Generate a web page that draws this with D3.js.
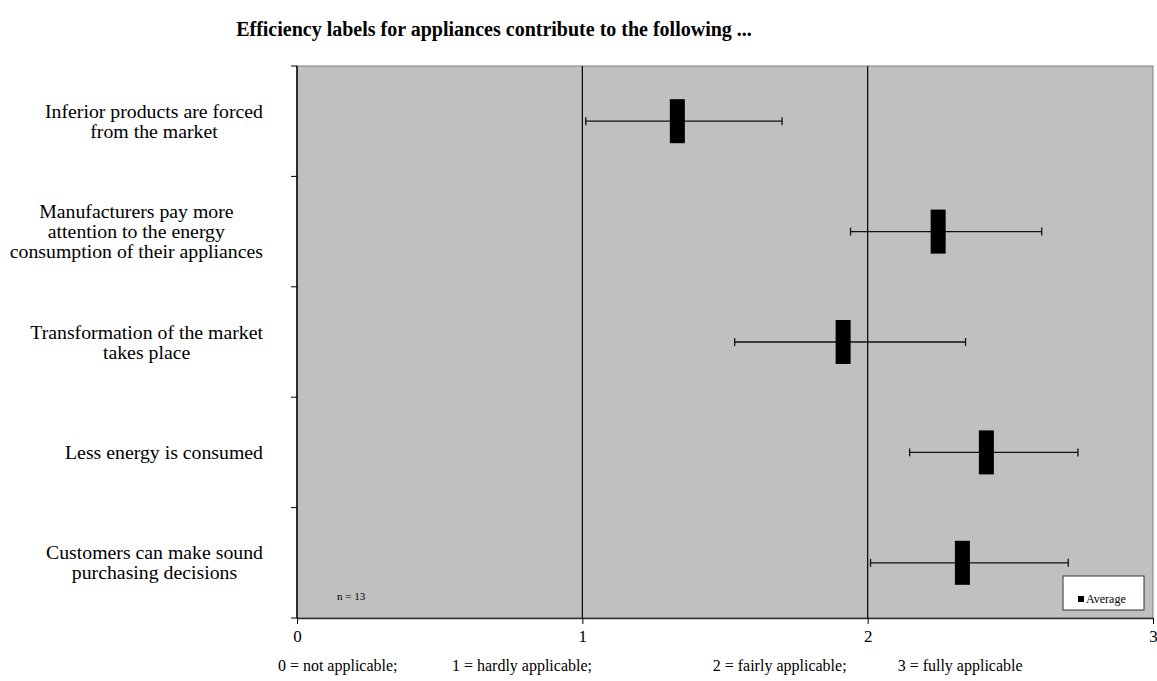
<!DOCTYPE html>
<html>
<head>
<meta charset="utf-8">
<title>Efficiency labels</title>
<script src="https://cdn.jsdelivr.net/npm/d3@7"></script>
<style>
  body { margin: 0; background: #fff; }
  svg text { font-family: "Liberation Serif", "Times New Roman", serif; fill: #000; }
</style>
</head>
<body>
<svg id="chart" width="1157" height="681"></svg>
<script>
var categories = [
  ["Inferior products are forced", "from the market"],
  ["Manufacturers pay more", "attention to the energy", "consumption of their appliances"],
  ["Transformation of the market", "takes place"],
  ["Less energy is consumed"],
  ["Customers can make sound", "purchasing decisions"]
];
var averages = [1.333, 2.247, 1.914, 2.416, 2.332];
var lowValues = [1.012, 1.94, 1.534, 2.147, 2.01];
var highValues = [1.70, 2.61, 2.343, 2.737, 2.703];
var xTicks = [0, 1, 2, 3];
var scaleNotes = ["0 = not applicable;", "1 = hardly applicable;", "2 = fairly applicable;", "3 = fully applicable"];
var noteStarts = [-0.067, 0.543, 1.457, 2.105];

var plotLeft = 297, plotRight = 1153, plotTop = 66, plotBottom = 618;
var svg = d3.select("#chart");

var x = d3.scaleLinear().domain([0, 3]).range([plotLeft, plotRight]);
var y = d3.scaleBand().domain(d3.range(categories.length)).range([plotTop, plotBottom]).padding(0);

// plot background
svg.append("rect")
  .attr("x", plotLeft).attr("y", plotTop)
  .attr("width", plotRight - plotLeft).attr("height", plotBottom - plotTop)
  .attr("fill", "#c0c0c0")
  .attr("stroke", "#808080").attr("stroke-width", 1);

// vertical grid lines at 1 and 2
svg.selectAll(".grid")
  .data([1, 2])
  .enter().append("line")
  .attr("x1", function(d) { return x(d); })
  .attr("x2", function(d) { return x(d); })
  .attr("y1", plotTop).attr("y2", plotBottom)
  .attr("stroke", "#000").attr("stroke-width", 1.2);

// x axis
var xAxis = d3.axisBottom(x).tickValues(xTicks).tickSize(6).tickSizeOuter(0).tickFormat(d3.format("d"));
var gx = svg.append("g")
  .attr("transform", "translate(0," + plotBottom + ")")
  .call(xAxis);
gx.select(".domain").attr("stroke", "#333").attr("stroke-width", 1.5);
gx.selectAll(".tick line").attr("stroke", "#000");
gx.selectAll(".tick text")
  .attr("y", 12)
  .style("font-size", "17px")
  .style("font-family", "'Liberation Serif', serif");

// y axis: ticks at band edges
var yEdges = d3.range(categories.length + 1).map(function(i) { return plotTop + i * y.bandwidth(); });
svg.append("line")
  .attr("x1", plotLeft).attr("x2", plotLeft)
  .attr("y1", plotTop).attr("y2", plotBottom)
  .attr("stroke", "#000").attr("stroke-width", 1.5);
svg.selectAll(".ytick")
  .data(yEdges)
  .enter().append("line")
  .attr("x1", plotLeft - 6).attr("x2", plotLeft)
  .attr("y1", function(d) { return d; })
  .attr("y2", function(d) { return d; })
  .attr("stroke", "#000");

// category labels: block right aligned, lines centered
var labelRight = 263, lineH = 20;
categories.forEach(function(lines, i) {
  var g = svg.append("g");
  var cy = y(i) + y.bandwidth() / 2;
  var texts = g.selectAll("text")
    .data(lines)
    .enter().append("text")
    .attr("text-anchor", "middle")
    .style("font-size", "19.8px")
    .attr("y", function(d, j) { return cy + (j - (lines.length - 1) / 2) * lineH + 6.5; })
    .text(function(d) { return d; });
  var maxW = 0;
  texts.each(function() { maxW = Math.max(maxW, this.getComputedTextLength()); });
  texts.attr("x", labelRight - maxW / 2);
});

// error bars
var capH = 4;
var bars = svg.selectAll(".err")
  .data(averages)
  .enter().append("g");
bars.append("line")
  .attr("x1", function(d, i) { return x(lowValues[i]); })
  .attr("x2", function(d, i) { return x(highValues[i]); })
  .attr("y1", function(d, i) { return y(i) + y.bandwidth() / 2; })
  .attr("y2", function(d, i) { return y(i) + y.bandwidth() / 2; })
  .attr("stroke", "#111").attr("stroke-width", 1.3);
bars.append("line")
  .attr("x1", function(d, i) { return x(lowValues[i]); })
  .attr("x2", function(d, i) { return x(lowValues[i]); })
  .attr("y1", function(d, i) { return y(i) + y.bandwidth() / 2 - capH; })
  .attr("y2", function(d, i) { return y(i) + y.bandwidth() / 2 + capH; })
  .attr("stroke", "#111").attr("stroke-width", 1.3);
bars.append("line")
  .attr("x1", function(d, i) { return x(highValues[i]); })
  .attr("x2", function(d, i) { return x(highValues[i]); })
  .attr("y1", function(d, i) { return y(i) + y.bandwidth() / 2 - capH; })
  .attr("y2", function(d, i) { return y(i) + y.bandwidth() / 2 + capH; })
  .attr("stroke", "#111").attr("stroke-width", 1.3);

// average markers
var boxW = 15, boxH = 44;
bars.append("rect")
  .attr("x", function(d) { return x(d) - boxW / 2; })
  .attr("y", function(d, i) { return y(i) + y.bandwidth() / 2 - boxH / 2; })
  .attr("width", boxW).attr("height", boxH)
  .attr("fill", "#000");

// title
svg.append("text")
  .attr("x", 494).attr("y", 36)
  .attr("text-anchor", "middle")
  .style("font-size", "20px").style("font-weight", "bold")
  .text("Efficiency labels for appliances contribute to the following ...");

// n = 13
svg.append("text")
  .attr("x", 337).attr("y", 600)
  .style("font-size", "11px")
  .text("n = 13");

// legend
var legend = svg.append("g");
legend.append("rect")
  .attr("x", 1063).attr("y", 576).attr("width", 81).attr("height", 34)
  .attr("fill", "#fff").attr("stroke", "#333").attr("stroke-width", 1);
legend.append("rect")
  .attr("x", 1078).attr("y", 596).attr("width", 6).attr("height", 6)
  .attr("fill", "#000");
legend.append("text")
  .attr("x", 1086).attr("y", 603)
  .style("font-size", "12px")
  .text("Average");

// scale notes
svg.selectAll(".note")
  .data(scaleNotes)
  .enter().append("text")
  .attr("x", function(d, i) { return x(noteStarts[i]); })
  .attr("y", 671)
  .style("font-size", "16px")
  .text(function(d) { return d; });
</script>
</body>
</html>
